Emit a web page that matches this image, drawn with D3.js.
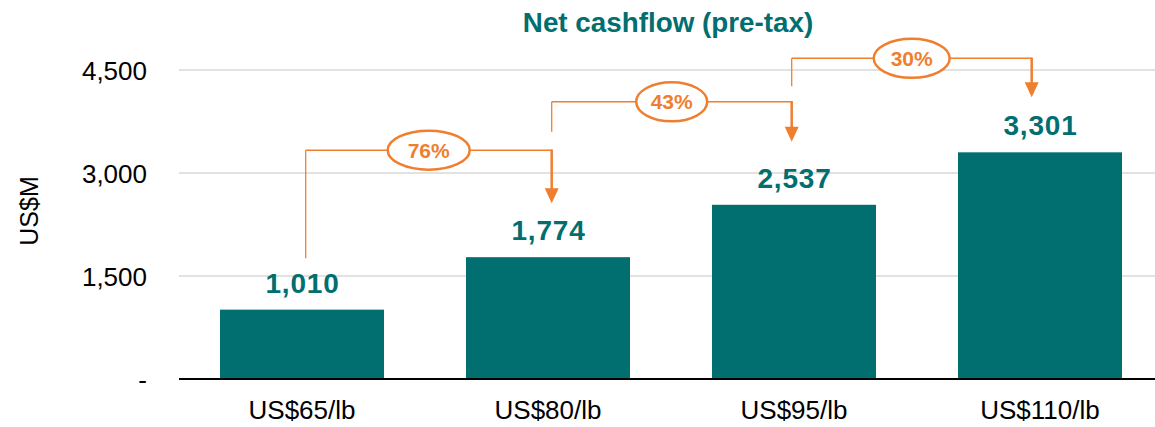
<!DOCTYPE html>
<html>
<head>
<meta charset="utf-8">
<script src="https://cdn.jsdelivr.net/npm/d3@7"></script>
<style>
  html, body { margin: 0; padding: 0; background: #fff; }
  svg { display: block; font-family: "Liberation Sans", Arial, sans-serif; }
</style>
</head>
<body>
<svg id="chart" width="1155" height="427"></svg>
<script>
// ---- data ----
const categories = ["US$65/lb", "US$80/lb", "US$95/lb", "US$110/lb"];
const values = [1010, 1774, 2537, 3301];
const tickValues = [0, 1500, 3000, 4500];
const tickLabels = ["-", "1,500", "3,000", "4,500"];
const changeLabels = ["76%", "43%", "30%"];
const title = "Net cashflow (pre-tax)";
const yTitle = "US$M";

// ---- styling ----
const TEAL = "#016e6f";
const ORANGE = "#ef7f2f";

const svg = d3.select("#chart");

const x = d3.scaleBand()
  .domain(categories)
  .range([179, 1163])
  .paddingInner(1 / 3)
  .paddingOuter(1 / 6);

const y = d3.scaleLinear()
  .domain([0, 4500])
  .range([379, 70]);

// gridlines
svg.append("g").selectAll("line")
  .data(tickValues.filter(d => d > 0))
  .join("line")
  .attr("x1", 179).attr("x2", 1155)
  .attr("y1", d => y(d)).attr("y2", d => y(d))
  .attr("stroke", "#d9d9d9").attr("stroke-width", 1.5);

// y tick labels
svg.append("g").selectAll("text")
  .data(tickValues)
  .join("text")
  .attr("x", 147)
  .attr("y", d => y(d))
  .attr("dy", "0.4em")
  .attr("text-anchor", "end")
  .attr("font-size", 26)
  .attr("fill", "#000")
  .text((d, i) => tickLabels[i]);

// y title
svg.append("text")
  .attr("transform", "translate(38,211) rotate(-90)")
  .attr("text-anchor", "middle")
  .attr("font-size", 25)
  .attr("fill", "#000")
  .text(yTitle);

// bars
svg.append("g").selectAll("rect")
  .data(values)
  .join("rect")
  .attr("x", (d, i) => x(categories[i]))
  .attr("width", x.bandwidth())
  .attr("y", d => y(d))
  .attr("height", d => y(0) - y(d))
  .attr("fill", TEAL);

// baseline
svg.append("line")
  .attr("x1", 179).attr("x2", 1155)
  .attr("y1", y(0)).attr("y2", y(0))
  .attr("stroke", "#000").attr("stroke-width", 2);

// x labels
svg.append("g").selectAll("text")
  .data(categories)
  .join("text")
  .attr("x", d => x(d) + x.bandwidth() / 2)
  .attr("y", 419)
  .attr("text-anchor", "middle")
  .attr("font-size", 26)
  .attr("fill", "#000")
  .text(d => d);

// value labels
svg.append("g").selectAll("text")
  .data(values)
  .join("text")
  .attr("x", (d, i) => x(categories[i]) + x.bandwidth() / 2 + 0.5)
  .attr("y", d => y(d) - 17)
  .attr("text-anchor", "middle")
  .attr("font-size", 28)
  .attr("font-weight", "bold")
  .attr("letter-spacing", 0.8)
  .attr("fill", TEAL)
  .text(d => d3.format(",")(d));

// title
svg.append("text")
  .attr("x", 668).attr("y", 32)
  .attr("text-anchor", "middle")
  .attr("font-size", 27.8)
  .attr("font-weight", "bold")
  .attr("fill", TEAL)
  .text(title);

// growth annotations
const startDx = [3.7, 3.7, -2.3];
const endDx = [3.7, -2.3, -8.3];
const levelAbove = [107, 103, 94];     // bracket height above next bar top
const startLen = [108, 30, 28];        // length of the start stub
const tipAbove = [54, 63, 55];         // arrow tip distance above next bar top
const ellRx = [41, 35.5, 38];

const ann = svg.append("g");
changeLabels.forEach((lab, i) => {
  const c0 = x(categories[i]) + x.bandwidth() / 2 + startDx[i];
  const c1 = x(categories[i + 1]) + x.bandwidth() / 2 + endDx[i];
  const top1 = y(values[i + 1]);
  const hy = top1 - levelAbove[i];
  const tipY = top1 - tipAbove[i];
  const g = ann.append("g");
  g.append("line")
    .attr("x1", c0).attr("x2", c0)
    .attr("y1", hy + startLen[i]).attr("y2", hy)
    .attr("stroke", ORANGE).attr("stroke-width", 1.3);
  g.append("line")
    .attr("x1", c0).attr("x2", c1)
    .attr("y1", hy).attr("y2", hy)
    .attr("stroke", ORANGE).attr("stroke-width", 1.5);
  g.append("line")
    .attr("x1", c1).attr("x2", c1)
    .attr("y1", hy - 0.7).attr("y2", tipY - 12)
    .attr("stroke", ORANGE).attr("stroke-width", 2.5);
  g.append("path")
    .attr("d", `M${c1 - 7},${tipY - 15} L${c1 + 7},${tipY - 15} L${c1},${tipY} Z`)
    .attr("fill", ORANGE);
  const mx = (c0 + c1) / 2;
  g.append("ellipse")
    .attr("cx", mx).attr("cy", hy)
    .attr("rx", ellRx[i]).attr("ry", 19.5)
    .attr("fill", "#fff")
    .attr("stroke", ORANGE).attr("stroke-width", 2.5);
  g.append("text")
    .attr("x", mx).attr("y", hy)
    .attr("dy", "0.36em")
    .attr("text-anchor", "middle")
    .attr("font-size", 21)
    .attr("font-weight", "bold")
    .attr("fill", ORANGE)
    .text(lab);
});
</script>
</body>
</html>
